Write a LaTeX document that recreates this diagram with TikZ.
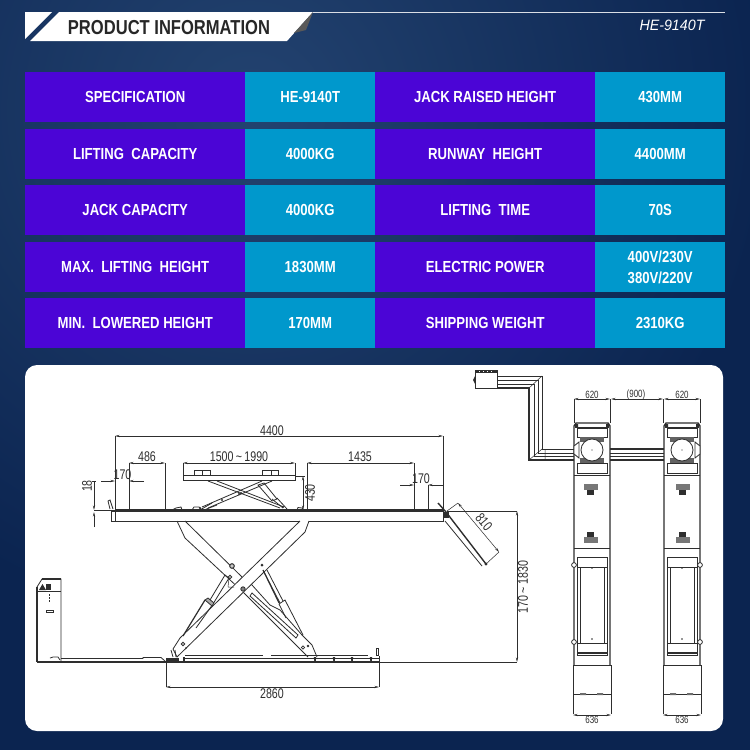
\documentclass[tikz,border=0pt]{standalone}
\usepackage{fontspec}
\setmainfont[FakeStretch=0.82]{Liberation Sans}
\newfontfamily\dimfont[FakeStretch=0.76]{Liberation Sans}
\newfontfamily\modelfont[FakeStretch=0.95]{Liberation Sans}
\usetikzlibrary{arrows.meta}
\definecolor{cellpurple}{HTML}{4B05D6}
\definecolor{cellblue}{HTML}{0098CC}
\definecolor{ink}{HTML}{2E2E2E}
\definecolor{pagedark}{HTML}{0B2450}
\definecolor{pagelight}{HTML}{234370}
\tikzset{
  cellbase/.style={anchor=north west,inner sep=0pt,minimum height=50pt,text=white,font=\bfseries\fontsize{16}{21}\selectfont,align=center},
  namecell/.style={cellbase,fill=cellpurple,minimum width=220pt},
  valuecell/.style={cellbase,fill=cellblue,minimum width=130pt},
  thin ink/.style={draw=ink,line width=.5pt},
  part/.style={draw=ink,line width=.8pt},
  heavy/.style={draw=ink,line width=1.4pt},
  dimline/.style={draw=ink,line width=.5pt,{Stealth[length=4.5pt,width=2.2pt]}-{Stealth[length=4.5pt,width=2.2pt]}},
  dimin/.style={draw=ink,line width=.5pt,-{Stealth[length=4.5pt,width=2.2pt]}},
  dimtext/.style={inner sep=0pt,text=ink,font=\dimfont\fontsize{14}{14}\selectfont},
  dimsmall/.style={inner sep=0pt,text=ink,font=\dimfont\fontsize{10.5}{11}\selectfont},
}
\begin{document}
\begin{tikzpicture}[x=1pt,y=-1pt]
\useasboundingbox (0,0) rectangle (750,750);
% page background
\begin{scope}
\clip (0,0) rectangle (750,750);
\fill[pagedark] (0,0) rectangle (750,750);
\shade[inner color=pagelight,outer color=pagedark] (250,110) circle (520);
\end{scope}
% header
\fill[white] (25,12) -- (52,12) -- (25,39) -- cycle;
\fill[white] (59,12) -- (313,12) -- (287,41) -- (30,41) -- cycle;
\fill[gray!70!black] (313,12) -- (306,30) -- (294,33) -- cycle;
\draw[white!85!pagedark,line width=.9pt] (313,12.5) -- (725,12.5);
\node[inner sep=0pt,text=ink!85!black,font=\bfseries\fontsize{20.2}{22}\selectfont] (title) at (169,27.5) {PRODUCT INFORMATION};
\node[inner sep=0pt,text=white,font=\modelfont\itshape\fontsize{15}{15}\selectfont] (model) at (672,25.5) {HE-9140T};
% table
\node[namecell] (a1) at (25,72) {SPECIFICATION};
\node[valuecell] (b1) at (245,72) {HE-9140T};
\node[namecell] (c1) at (375,72) {JACK RAISED HEIGHT};
\node[valuecell] (d1) at (595,72) {430MM};
\node[namecell] (a2) at (25,129) {LIFTING\ \ CAPACITY};
\node[valuecell] (b2) at (245,129) {4000KG};
\node[namecell] (c2) at (375,129) {RUNWAY\ \ HEIGHT};
\node[valuecell] (d2) at (595,129) {4400MM};
\node[namecell] (a3) at (25,185) {JACK CAPACITY};
\node[valuecell] (b3) at (245,185) {4000KG};
\node[namecell] (c3) at (375,185) {LIFTING\ \ TIME};
\node[valuecell] (d3) at (595,185) {70S};
\node[namecell] (a4) at (25,242) {MAX.\ \ LIFTING\ \ HEIGHT};
\node[valuecell] (b4) at (245,242) {1830MM};
\node[namecell] (c4) at (375,242) {ELECTRIC POWER};
\node[valuecell] (d4) at (595,242) {400V/230V\\380V/220V};
\node[namecell] (a5) at (25,298) {MIN.\ \ LOWERED HEIGHT};
\node[valuecell] (b5) at (245,298) {170MM};
\node[namecell] (c5) at (375,298) {SHIPPING WEIGHT};
\node[valuecell] (d5) at (595,298) {2310KG};
% white panel
\fill[white,rounded corners=12pt] (25,365) rectangle (723,731);

% ---------- side elevation: dimension lines
\draw[dimline] (115,436) -- (443,436);
\draw[thin ink] (115,436) -- (115,511) (443,436) -- (443,511);
\node[dimtext] (d4400) at (272,431) {4400};
\draw[dimline] (129,463) -- (165,463);
\draw[thin ink] (129,463) -- (129,510) (165,463) -- (165,510);
\node[dimtext] (d486) at (147,457) {486};
\draw[dimin] (101,481) -- (115,481);
\draw[dimin] (144,481) -- (129,481);
\node[dimtext] (d170a) at (122.5,475) {170};
\draw[dimline] (183,463) -- (295,463);
\draw[thin ink] (183,463) -- (183,476) (295,463) -- (295,476);
\node[dimtext] (d1500) at (239,457) {1500\,{\raisebox{0pt}{\char`\~}}\,1990};
\draw[dimline] (307,463) -- (414,463);
\draw[thin ink] (307,463) -- (307,510) (414,463) -- (414,510);
\node[dimtext] (d1435) at (360,457) {1435};
\draw[dimin] (400,485) -- (414,485);
\draw[dimin] (443,485) -- (428,485);
\draw[thin ink] (428,485) -- (428,510);
\node[dimtext] (d170b) at (421,479) {170};
\draw[dimline] (303,476) -- (303,510);
\draw[thin ink] (295,476) -- (305,476);
\node[dimtext,rotate=90] (d430) at (310,493) {430};
\draw[dimin] (94,481) -- (94,510);
\draw[dimin] (94,527) -- (94,512);
\draw[thin ink] (92,481) -- (96,481) (94,510) -- (115,510);
\node[dimtext,rotate=90] (d18) at (87,486) {18};
\draw[thin ink] (447,511) -- (517,511) (380,662) -- (517,662);
\draw[dimline] (517,511) -- (517,662);
\node[dimtext,rotate=90] (d170h) at (523,587) {170\,\char`\~\,1830};
\draw[dimline] (166,687) -- (379,687);
\draw[thin ink] (166,662) -- (166,687) (379,662) -- (379,687);
\node[dimtext] (d2860) at (272,694) {2860};
\draw[dimline] (458,503) -- (499,552);
\draw[thin ink] (447,511) -- (458,503) (486,564) -- (499,552);
\node[dimtext,rotate=-50] (d810) at (484,522) {810};

% ---------- runway
\draw[part] (115,511.5) rectangle (443,521);
\draw[heavy] (115,510) -- (443,510);
\draw[part] (111,511) rectangle (115,521);
\draw[part] (110,509) -- (108,501) -- (110,500) -- (113,509);
\draw[part] (172,510) -- (176,508) -- (181,507) -- (182,510);
\draw[part] (192,510) -- (194,507) -- (199,507) -- (202,510);
\draw[part] (297,510) -- (298,507.5) -- (302,508) -- (304,510);
% tilting ramp
\draw[heavy] (446,512) -- (486,564);
\draw[part] (445,521) -- (482,566);
\fill[ink] (486,564) circle (1.6);
\draw[heavy] (438,503) -- (446,512);
\fill[ink] (444,512) rectangle (449,518);
% jack
\draw[part] (183,475.5) rectangle (295,480.5);
\draw[thin ink] (295,476) -- (303,476);
\draw[part] (194,470.5) rectangle (202,475.5) (202,470.5) rectangle (210,475.5);
\draw[part] (262,470.5) rectangle (271,475.5) (271,470.5) rectangle (278,475.5);
\draw[part] (208,481) -- (280,508) (217,481) -- (284,507);
\draw[part] (202,507) -- (262,481) (208,508) -- (272,481);
\draw[part] (258,485) -- (264,483) -- (277,499) -- (272,501) -- cycle;
\draw[part] (272,499) -- (283,508) (277,498) -- (287,509);
\draw[part] (200,510) -- (212,503) (204,510) -- (217,505);
\fill[ink] (222,500) circle (1.1) (239,494) circle (1.1) (241,493) circle (1.1);
\fill[ink] (200,508) circle (1.2) (283,507) circle (1.2);

% ---------- scissors: arm under
\draw[part] (177,521) -- (185,538) -- (243,592) -- (308,657);
\draw[part] (185,521) -- (242,577) -- (252,585) -- (270,605) -- (280,610) -- (302,635) -- (312,645) -- (317,657);
% arm on top
\filldraw[part,fill=white] (300,521) -- (180,638) -- (173,649) -- (177,657) -- (305,532) -- (309,521);
% left cylinder
\draw[part] (225,575) -- (210,600) (229,578) -- (213,604);
\draw[part,line width=1.2pt] (205,600) -- (183,636);
\draw[part] (213,604) -- (196,628);
\draw[part] (225,575) -- (229,578);
\draw[part,fill=ink!40] (205,600) -- (208,598) -- (214,603) -- (212,606) -- cycle;
\draw[thin ink] (229,578) -- (228,587) (228,587) -- (234,587);
% right cylinder
\draw[part] (263,570) -- (280,603) (267,570) -- (283,601);
\draw[part] (279,604) -- (285,600) -- (303,635);
\draw[part] (279,604) -- (286,618);
\draw[part,line width=1.1pt] (263,570) -- (279,603);
% slot
\draw[part] (252,593) -- (298,635) -- (296,638) -- (250,596) -- cycle;
% pivots
\draw[part,fill=ink!50] (232,566) circle (2.4);
\fill[white] (232,566) circle (.8);
\draw[part,fill=white] (230,577) circle (1.8);
\draw[part,fill=ink!60] (243,589) circle (2.2);
\fill[ink] (262,565) circle (1.5);
\draw[part,fill=white] (183,644) circle (1.7);
\draw[part,fill=white] (303,647.5) circle (1.6);
\fill[ink] (308,646) circle (1.3) (186,648) circle (.9);
% base
\draw[heavy] (37,662) -- (379,662);
\draw[part] (61,658.5) -- (143,658.5) -- (143,657.5) -- (161,657.5) -- (165,661);
\draw[part] (185,655.5) -- (263,655.5) (271,655.5) -- (368,655.5) (185,658.5) -- (379,658.5);
\draw[part] (376,648) rectangle (378,655);
\draw[part] (379,656) -- (379,662) -- (373,662);
\draw[part] (171,650) -- (173,657) (175,650) -- (176,657);
\fill[ink] (166,658) rectangle (179,662);
\fill[ink] (183,657) rectangle (185,662);
\foreach \tx in {315,334,352,371} {\fill[ink] (\tx-1.2,657) -- (\tx+1.2,657) -- (\tx+.6,662) -- (\tx-.6,662) -- cycle;}
% console
\draw[part] (61,662) -- (61,579) -- (42,579) -- (37,587);
\draw[heavy] (37,587) -- (37,662);
\draw[heavy] (42,579) -- (61,579);
\draw[part] (37,591.5) -- (61,591.5);
\fill[ink] (39,590) -- (42.5,584) -- (46,590) -- cycle;
\fill[ink] (46,584) rectangle (51,590);
\draw[heavy,dash pattern=on 2pt off 1pt] (49.5,594) -- (49.5,603);
\draw[part] (46,610) rectangle (53,612.5);
\draw[part] (50,658) -- (53,657) -- (58,657) -- (60,660);

% ---------- plan view: conduit
\draw[part,fill=white] (475,370) rectangle (497,388);
\fill[ink] (475,370) rectangle (497,373);
\fill[ink] (473,380) -- (475,376) -- (475,384) -- cycle;
\foreach \cx in {479,483,487,491} {\fill[white] (\cx,371) rectangle +(1.4,1);}
\draw[part] (497,376) -- (542,376) -- (542,449) -- (574,449);
\draw[heavy] (497,388) -- (529,388) -- (529,460) -- (574,460);
\draw[thin ink] (497,380) -- (538,380) -- (538,453) -- (574,453);
\draw[thin ink] (497,384) -- (534,384) -- (534,456) -- (574,456);
\draw[thin ink] (529,388) -- (542,376) (529,460) -- (542,449) (545,449) -- (545,460);
\draw[heavy] (610,449) -- (664,449) (610,460) -- (664,460);
\draw[thin ink] (610,453) -- (664,453) (610,456) -- (664,456);
% plan view: dimensions
\draw[dimline] (574,399) -- (610,399);
\draw[dimline] (611,399) -- (663,399);
\draw[dimline] (664,399) -- (700,399);
\draw[thin ink] (574,399) -- (574,423) (610.5,399) -- (610.5,423) (663.5,399) -- (663.5,423) (700,399) -- (700,423);
\node[dimsmall] (w1) at (592,394.5) {620};
\node[dimsmall] (w2) at (636,394.5) {(900)};
\node[dimsmall] (w3) at (682,394.5) {620};
\node[dimsmall] (w4) at (592,720) {636};
\node[dimsmall] (w5) at (682,720) {636};
% plan view: both runways
\foreach \ox/\pc in {574/16.5,664/18.5} {
\begin{scope}[shift={(\ox,0)}]
  \draw[heavy] (0,665) -- (0,426) -- (2,423) -- (34,423) -- (36,426) -- (36,665);
  \draw[part] (1,427) -- (35,427);
  \fill[ink] (1,424) rectangle (4,427) (32,424) rectangle (35,427);
  \draw[part] (3,428) rectangle (33,437);
  \draw[part] (3,463) rectangle (33,473);
  \draw[part] (0,475) -- (36,475);
  \fill[ink!75] (6,437) rectangle (30,442);
  \fill[ink!75] (6,458) rectangle (30,463);
  \draw[part,fill=white] (18,450) circle (11);
  \fill[ink] (18,450) circle (.7);
  % lift pads
  \fill[ink!65] (\pc-7,484) rectangle (\pc+7,490);
  \fill[ink] (\pc-3.5,490) rectangle (\pc+3.5,495);
  \fill[ink] (\pc-3.5,532) rectangle (\pc+3.5,537);
  \fill[ink!65] (\pc-7,537) rectangle (\pc+7,543);
  % tail
  \draw[part] (0,548) -- (36,548);
  \draw[part] (3,557) rectangle (33,655);
  \draw[part] (3,567) -- (33,567) (3,643) -- (33,643);
  \draw[thin ink] (6,567) -- (6,643) (30,567) -- (30,643);
  \draw[heavy] (3,653) -- (33,653);
  \fill[ink] (18,568) circle (.9) (18,639) circle (.9);
  % ramp
  \draw[part] (-1,665) rectangle (37,694);
  \draw[part] (-1,694) -- (-1,714) (37,694) -- (37,714);
  \fill[ink!70] (6,693) rectangle (12,695) (23,693) rectangle (29,695);
  \draw[dimline] (-1,715) -- (37,715);
\end{scope}
}
% pads' outer hinges
\foreach \hx in {574,700} {
  \draw[part,fill=white] (\hx,565) circle (2.4);
  \draw[part,fill=white] (\hx,642) circle (2.4);
}
% side brackets of the turntables
\draw[part,fill=white] (574,446) -- (579,442) -- (579,458) -- (574,454) -- cycle;
\draw[part,fill=white] (700,446) -- (695,442) -- (695,458) -- (700,454) -- cycle;
\end{tikzpicture}
\end{document}
